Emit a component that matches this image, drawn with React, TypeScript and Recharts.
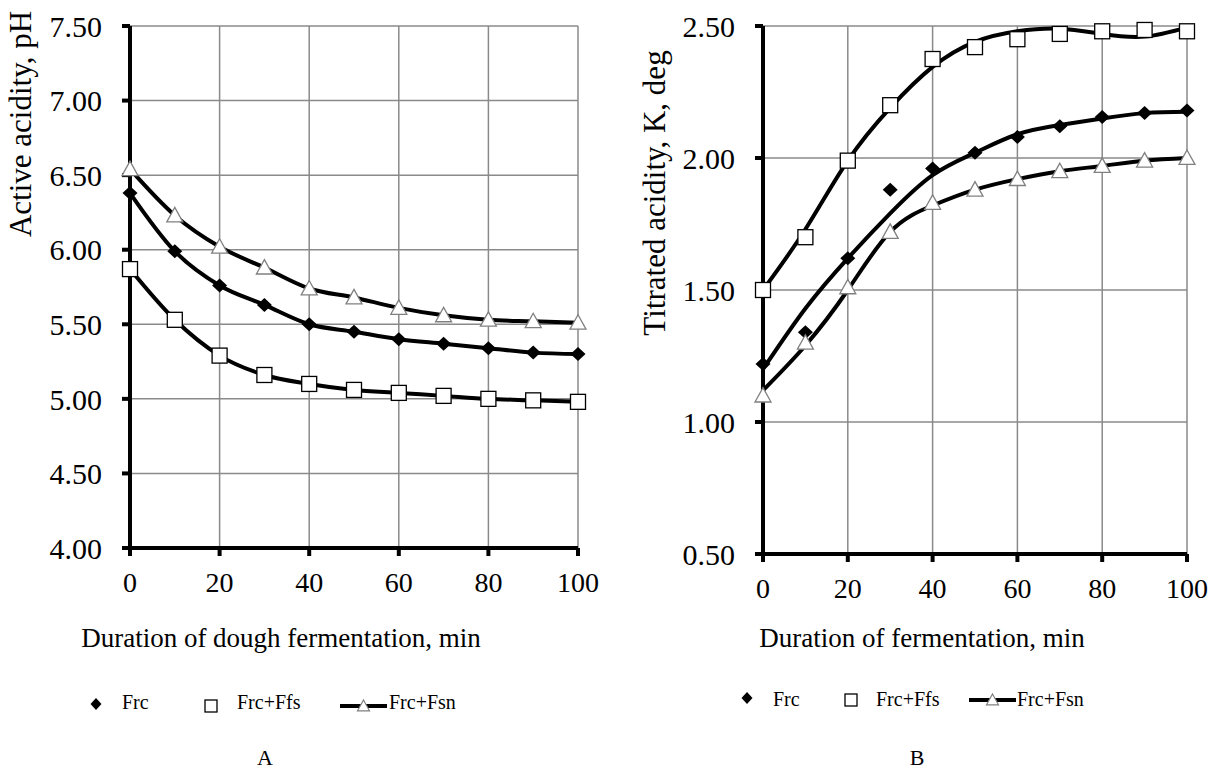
import React from 'react';
import { LineChart, Line, XAxis, YAxis, CartesianGrid } from 'recharts';

// fermentation time, min
const minutes = [0, 10, 20, 30, 40, 50, 60, 70, 80, 90, 100];
const xTicks = [0, 20, 40, 60, 80, 100];

// A - active acidity, pH
const phFrc = [6.38, 5.99, 5.76, 5.63, 5.5, 5.45, 5.4, 5.37, 5.34, 5.31, 5.3];
const phFfs = [5.87, 5.53, 5.29, 5.16, 5.1, 5.06, 5.04, 5.02, 5.0, 4.99, 4.98];
const phFsn = [6.54, 6.23, 6.02, 5.88, 5.74, 5.68, 5.61, 5.56, 5.53, 5.52, 5.51];
const phTicks = [4, 4.5, 5, 5.5, 6, 6.5, 7, 7.5];

// B - titrated acidity, K deg (measured points)
const tFrc = [1.22, 1.34, 1.62, 1.88, 1.96, 2.02, 2.08, 2.12, 2.155, 2.17, 2.18];
const tFfs = [1.5, 1.7, 1.99, 2.2, 2.375, 2.42, 2.45, 2.47, 2.48, 2.485, 2.48];
const tFsn = [1.1, 1.3, 1.51, 1.72, 1.83, 1.88, 1.92, 1.95, 1.97, 1.99, 2.0];
// B - trend curves
const tFrcFit = [1.2, 1.43, 1.62, 1.79, 1.935, 2.02, 2.09, 2.125, 2.15, 2.17, 2.175];
const tFfsFit = [1.5, 1.73, 1.99, 2.19, 2.345, 2.44, 2.48, 2.49, 2.47, 2.46, 2.495];
const tFsnFit = [1.12, 1.29, 1.5, 1.72, 1.82, 1.88, 1.92, 1.95, 1.97, 1.99, 2.0];
const tTicks = [0.5, 1, 1.5, 2, 2.5];

const FONT = 'Liberation Serif, Times New Roman, serif';
const GRID = '#8a8a8a';

const dataA = minutes.map((m, i) => ({ m, frc: phFrc[i], ffs: phFfs[i], fsn: phFsn[i] }));
const dataB = minutes.map((m, i) => ({
  m,
  frc: tFrc[i],
  ffs: tFfs[i],
  fsn: tFsn[i],
  frcFit: tFrcFit[i],
  ffsFit: tFfsFit[i],
  fsnFit: tFsnFit[i],
}));

// marker shapes
const diamond = (cx: number, cy: number, rx = 7.5, ry = 7) =>
  `M${cx},${cy - ry} L${cx + rx},${cy} L${cx},${cy + ry} L${cx - rx},${cy} Z`;
const triangle = (cx: number, cy: number, w = 16) =>
  `M${cx},${cy - w * 0.5} L${cx + w / 2},${cy + w * 0.4} L${cx - w / 2},${cy + w * 0.4} Z`;

const DiamondDot = (p: any) =>
  p.cx == null ? null : <path key={p.key ?? `d-${p.index}`} d={diamond(p.cx, p.cy)} fill="#000" />;
const SquareDot = (p: any) =>
  p.cx == null ? null : (
    <rect key={p.key ?? `s-${p.index}`} x={p.cx - 7.5} y={p.cy - 7.5} width={15} height={15} fill="#fff" stroke="#000" strokeWidth={1.3} />
  );
const TriangleDot = (p: any) =>
  p.cx == null ? null : (
    <path key={p.key ?? `t-${p.index}`} d={triangle(p.cx, p.cy)} fill="#fff" stroke="#808080" strokeWidth={1.3} />
  );

const axisProps = {
  axisLine: { stroke: '#000', strokeWidth: 4 },
  tickLine: { stroke: '#000', strokeWidth: 4 },
  tickSize: 8,
};

function LegendRow({ x, y, base }: { x: number[]; y: number; base: number }) {
  // x = [diamond, text1, square, text2, lineStart, lineEnd, text3]
  const tri = (x[4] + x[5]) / 2;
  return (
    <g fontFamily={FONT} fontSize={20} fill="#000">
      <path d={diamond(x[0], y - 2, 5.5, 6)} fill="#000" />
      <text x={x[1]} y={base}>Frc</text>
      <rect x={x[2] - 6} y={y - 6} width={12} height={12} fill="#fff" stroke="#000" strokeWidth={1.3} />
      <text x={x[3]} y={base}>Frc+Ffs</text>
      <line x1={x[4]} y1={y} x2={x[5]} y2={y} stroke="#000" strokeWidth={4} />
      <path d={triangle(tri, y, 12)} fill="#fff" stroke="#808080" strokeWidth={1.2} />
      <text x={x[6]} y={base}>Frc+Fsn</text>
    </g>
  );
}

function ChartA() {
  return (
    <LineChart
      width={600}
      height={771}
      data={dataA}
      margin={{ top: 26, right: 22, bottom: 183, left: 50 }}
      style={{ position: 'absolute', left: 0, top: 0 }}
    >
      <CartesianGrid stroke={GRID} strokeWidth={1.5} />
      <XAxis
        dataKey="m"
        type="number"
        domain={[0, 100]}
        ticks={xTicks}
        height={40}
        tickMargin={16}
        tick={{ fill: '#000', fontSize: 28, fontFamily: FONT }}
        {...axisProps}
      />
      <YAxis
        type="number"
        domain={[4, 7.5]}
        ticks={phTicks}
        width={80}
        tickMargin={20}
        tickFormatter={(v: number) => v.toFixed(2)}
        tick={{ fill: '#000', fontSize: 30, fontFamily: FONT }}
        {...axisProps}
      />
      <Line type="monotone" dataKey="fsn" stroke="#000" strokeWidth={4} dot={false} activeDot={false} isAnimationActive={false} />
      <Line type="monotone" dataKey="frc" stroke="#000" strokeWidth={4} dot={false} activeDot={false} isAnimationActive={false} />
      <Line type="monotone" dataKey="ffs" stroke="#000" strokeWidth={4} dot={false} activeDot={false} isAnimationActive={false} />
      <Line dataKey="frc" stroke="none" dot={DiamondDot} activeDot={false} isAnimationActive={false} />
      <Line dataKey="ffs" stroke="none" dot={SquareDot} activeDot={false} isAnimationActive={false} />
      <Line dataKey="fsn" stroke="none" dot={TriangleDot} activeDot={false} isAnimationActive={false} />
    </LineChart>
  );
}

function ChartB() {
  return (
    <LineChart
      width={617}
      height={771}
      data={dataB}
      margin={{ top: 26, right: 30, bottom: 177, left: 83 }}
      style={{ position: 'absolute', left: 600, top: 0 }}
    >
      <CartesianGrid stroke={GRID} strokeWidth={1.5} />
      <XAxis
        dataKey="m"
        type="number"
        domain={[0, 100]}
        ticks={xTicks}
        height={40}
        tickMargin={16}
        tick={{ fill: '#000', fontSize: 28, fontFamily: FONT }}
        {...axisProps}
      />
      <YAxis
        type="number"
        domain={[0.5, 2.5]}
        ticks={tTicks}
        width={80}
        tickMargin={20}
        tickFormatter={(v: number) => v.toFixed(2)}
        tick={{ fill: '#000', fontSize: 30, fontFamily: FONT }}
        {...axisProps}
      />
      <Line type="natural" dataKey="ffsFit" stroke="#000" strokeWidth={4} dot={false} activeDot={false} isAnimationActive={false} />
      <Line type="natural" dataKey="frcFit" stroke="#000" strokeWidth={4} dot={false} activeDot={false} isAnimationActive={false} />
      <Line type="natural" dataKey="fsnFit" stroke="#000" strokeWidth={4} dot={false} activeDot={false} isAnimationActive={false} />
      <Line dataKey="frc" stroke="none" dot={DiamondDot} activeDot={false} isAnimationActive={false} />
      <Line dataKey="ffs" stroke="none" dot={SquareDot} activeDot={false} isAnimationActive={false} />
      <Line dataKey="fsn" stroke="none" dot={TriangleDot} activeDot={false} isAnimationActive={false} />
    </LineChart>
  );
}

export default function App() {
  return (
    <div style={{ position: 'absolute', left: 0, top: 0, width: 1217, height: 771, background: '#fff', overflow: 'hidden' }}>
      <ChartA />
      <ChartB />
      <svg width={1217} height={771} style={{ position: 'absolute', left: 0, top: 0, pointerEvents: 'none' }}>
        <g fontFamily={FONT} fill="#000">
          <text x={31} y={124} fontSize={31} textAnchor="middle" transform="rotate(-90 31 124)">
            Active acidity, pH
          </text>
          <text x={665} y={193} fontSize={31} textAnchor="middle" transform="rotate(-90 665 193)">
            Titrated acidity, K, deg
          </text>
          <text x={281} y={647} fontSize={27} textAnchor="middle">Duration of dough fermentation, min</text>
          <text x={922} y={647} fontSize={27} textAnchor="middle">Duration of fermentation, min</text>
          <text x={265} y={765} fontSize={22} textAnchor="middle">A</text>
          <text x={917} y={765} fontSize={22} textAnchor="middle">B</text>
        </g>
        <LegendRow x={[96, 122, 211, 237, 340, 387, 389]} y={706} base={709} />
        <LegendRow x={[747, 773, 851, 876, 969, 1016, 1017]} y={700} base={706} />
      </svg>
    </div>
  );
}
